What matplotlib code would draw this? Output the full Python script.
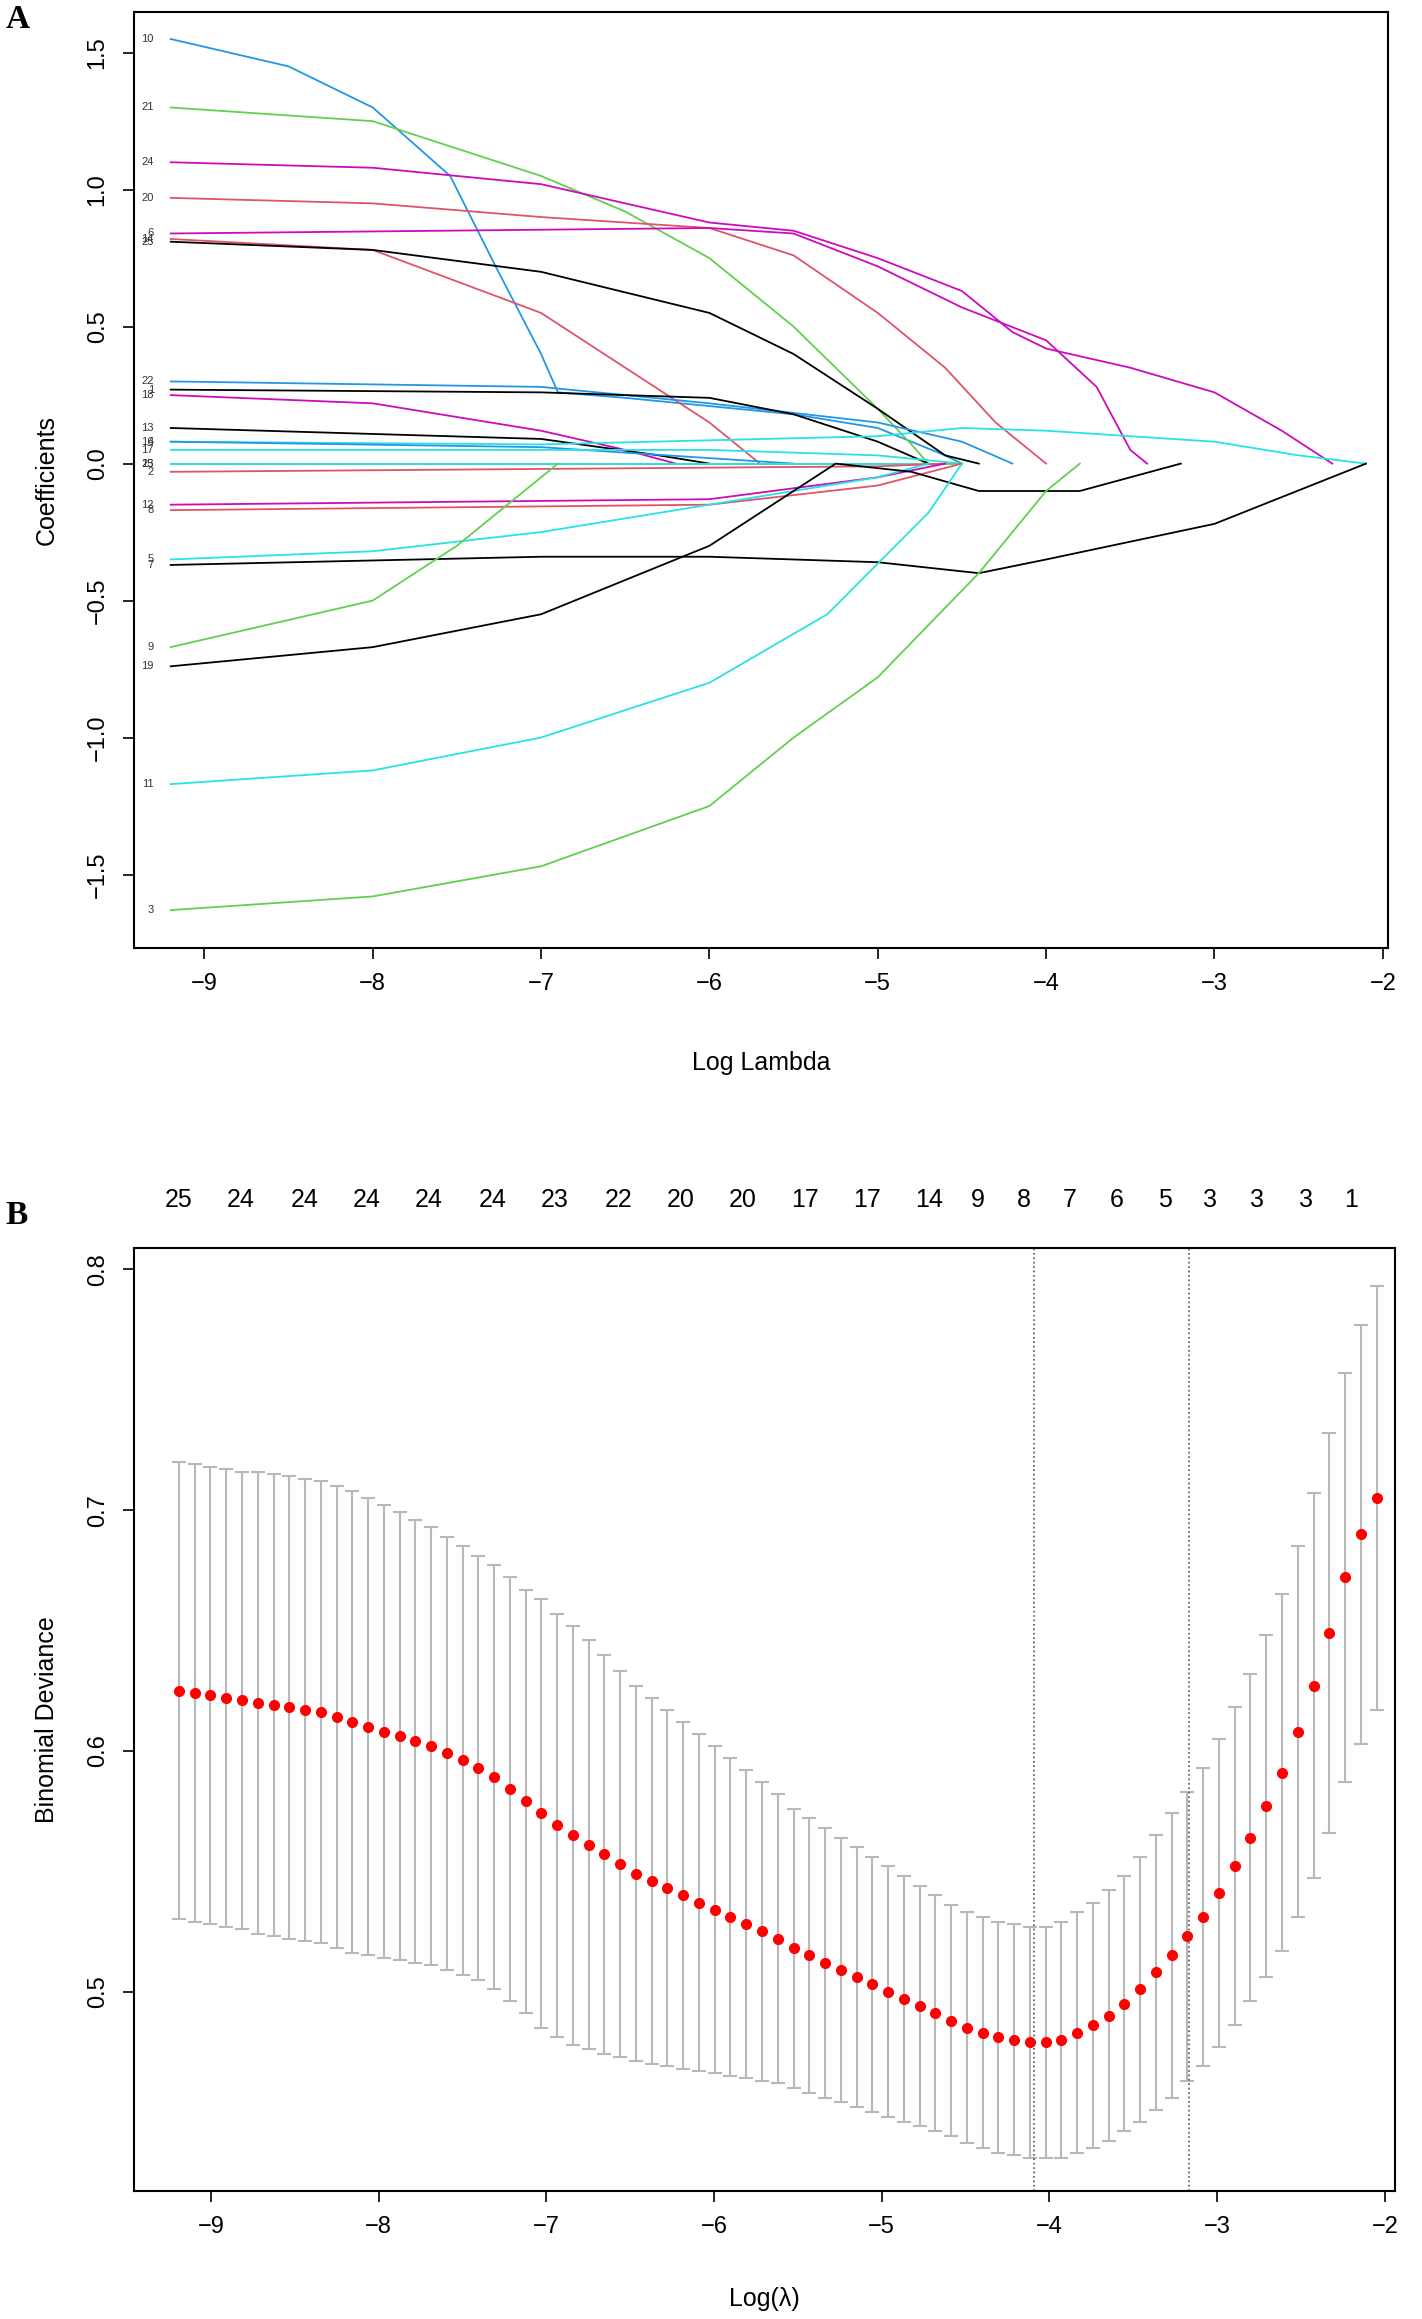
import numpy as np
import matplotlib
matplotlib.use("Agg")
from matplotlib import pyplot as plt
from matplotlib.transforms import blended_transform_factory

plt.rcParams['font.family'] = ['Liberation Sans', 'DejaVu Sans']

# R palette
BLK = 'black'
RED = '#DF536B'
GRN = '#61D04F'
BLU = '#2297E6'
CYN = '#28E2E5'
MAG = '#CD0BBC'

# ---- panel A: coefficient paths, (log lambda, coefficient) knots per variable
paths = {
    '10': (BLU, [(-9.2, 1.55), (-8.5, 1.45), (-8, 1.30), (-7.54, 1.05), (-7.27, 0.72), (-7.0, 0.40),
                 (-6.9, 0.26), (-6.5, 0.24), (-6, 0.21), (-5.5, 0.18), (-5, 0.13), (-4.8, 0.08), (-4.6, 0.03), (-4.5, 0)]),
    '21': (GRN, [(-9.2, 1.30), (-8, 1.25), (-7, 1.05), (-6.5, 0.92), (-6, 0.75), (-5.5, 0.50), (-5, 0.20), (-4.8, 0.07), (-4.7, 0)]),
    '24': (MAG, [(-9.2, 1.10), (-8, 1.08), (-7, 1.02), (-6, 0.88), (-5.5, 0.85), (-5, 0.75), (-4.5, 0.63), (-4.2, 0.48),
                 (-4, 0.42), (-3.5, 0.35), (-3, 0.26), (-2.6, 0.12), (-2.3, 0)]),
    '20': (RED, [(-9.2, 0.97), (-8, 0.95), (-7, 0.90), (-6, 0.86), (-5.5, 0.76), (-5, 0.55), (-4.6, 0.35), (-4.3, 0.15), (-4.0, 0)]),
    '6': (MAG, [(-9.2, 0.84), (-6, 0.86), (-5.5, 0.84), (-5, 0.72), (-4.5, 0.57), (-4, 0.45), (-3.7, 0.28), (-3.5, 0.05), (-3.4, 0)]),
    '14': (RED, [(-9.2, 0.82), (-8, 0.78), (-7, 0.55), (-6.5, 0.35), (-6, 0.15), (-5.7, 0)]),
    '25': (BLK, [(-9.2, 0.81), (-8, 0.78), (-7, 0.70), (-6, 0.55), (-5.5, 0.40), (-5, 0.20), (-4.6, 0.03), (-4.4, 0)]),
    '22': (BLU, [(-9.2, 0.30), (-7, 0.28), (-6, 0.22), (-5, 0.15), (-4.5, 0.08), (-4.2, 0)]),
    '1': (BLK, [(-9.2, 0.27), (-7, 0.26), (-6, 0.24), (-5.5, 0.18), (-5, 0.08), (-4.7, 0)]),
    '18': (MAG, [(-9.2, 0.25), (-8, 0.22), (-7, 0.12), (-6.5, 0.05), (-6.2, 0)]),
    '13': (BLK, [(-9.2, 0.13), (-7, 0.09), (-6.3, 0.03), (-6, 0)]),
    '16': (CYN, [(-9.2, 0.08), (-7, 0.07), (-5, 0.10), (-4.5, 0.13), (-4, 0.12), (-3, 0.08), (-2.5, 0.03), (-2.1, 0)]),
    '4': (BLU, [(-9.2, 0.08), (-7, 0.06), (-6, 0.02), (-5.5, 0)]),
    '17': (CYN, [(-9.2, 0.05), (-6, 0.05), (-5, 0.03), (-4.5, 0)]),
    '23': (GRN, [(-9.2, 0.0), (-4.5, 0.0)]),
    '15': (CYN, [(-9.2, 0.0), (-4.8, 0.0)]),
    '2': (RED, [(-9.2, -0.03), (-5, -0.01), (-4.6, 0)]),
    '12': (MAG, [(-9.2, -0.15), (-6, -0.13), (-5, -0.05), (-4.6, 0)]),
    '8': (RED, [(-9.2, -0.17), (-6, -0.15), (-5, -0.08), (-4.5, 0)]),
    '5': (CYN, [(-9.2, -0.35), (-8, -0.32), (-7, -0.25), (-6, -0.15), (-5, -0.05), (-4.7, 0)]),
    '7': (BLK, [(-9.2, -0.37), (-7, -0.34), (-6, -0.34), (-5, -0.36), (-4.4, -0.40), (-4, -0.35), (-3, -0.22), (-2.1, 0)]),
    '9': (GRN, [(-9.2, -0.67), (-8, -0.50), (-7.5, -0.30), (-7, -0.05), (-6.9, 0)]),
    '19': (BLK, [(-9.2, -0.74), (-8, -0.67), (-7, -0.55), (-6, -0.30), (-5.5, -0.10), (-5.25, 0), (-4.8, -0.03),
                 (-4.4, -0.10), (-3.8, -0.10), (-3.2, 0)]),
    '11': (CYN, [(-9.2, -1.17), (-8, -1.12), (-7, -1.00), (-6, -0.80), (-5.3, -0.55), (-4.7, -0.18), (-4.5, 0)]),
    '3': (GRN, [(-9.2, -1.63), (-8, -1.58), (-7, -1.47), (-6, -1.25), (-5.5, -1.00), (-5, -0.78), (-4.4, -0.40), (-4, -0.10), (-3.8, 0)]),
}

# ---- panel B: cross-validation curve
cv_x = np.linspace(-9.19, -2.05, 77)
cv_mean = [.625, .624, .623, .622, .621, .620, .619, .618, .617, .616,
           .614, .612, .610, .608, .606, .604, .602, .599, .596, .593,
           .589, .584, .579, .574, .569, .565, .561, .557, .553, .549,
           .546, .543, .540, .537, .534, .531, .528, .525, .522, .518,
           .515, .512, .509, .506, .503, .500, .497, .494, .491, .488,
           .485, .483, .481, .480, .479, .479, .480, .483, .486, .490,
           .495, .501, .508, .515, .523, .531, .541, .552, .564, .577,
           .591, .608, .627, .649, .672, .690, .705]
cv_se = [.095, .095, .095, .095, .095, .096, .096, .096, .096, .096,
         .096, .096, .095, .094, .093, .092, .091, .090, .089, .088,
         .088, .088, .088, .089, .088, .087, .085, .083, .080, .078,
         .076, .074, .072, .070, .068, .066, .064, .062, .060, .058,
         .057, .056, .055, .054, .053, .052, .051, .050, .049, .048,
         .048, .048, .048, .048, .048, .048, .049, .050, .051, .052,
         .053, .055, .057, .059, .060, .062, .064, .066, .068, .071,
         .074, .077, .080, .083, .085, .087, .088]
top_counts = ['25', '24', '24', '24', '24', '24', '23', '22', '20', '20', '17',
              '17', '14', '9', '8', '7', '6', '5', '3', '3', '3', '1']
top_x = [-9.19, -8.82, -8.44, -8.07, -7.70, -7.32, -6.95, -6.57, -6.20, -5.83, -5.46,
         -5.09, -4.72, -4.43, -4.15, -3.88, -3.60, -3.31, -3.04, -2.76, -2.47, -2.20]
lambda_min = -4.09
lambda_1se = -3.17

fig = plt.figure(figsize=(14.22, 23.19), dpi=100)
axA = fig.add_axes([0.094, 0.591, 0.882, 0.404])
axB = fig.add_axes([0.094, 0.055, 0.887, 0.407])

for name, (col, pts) in paths.items():
    pts = np.array(pts)
    axA.plot(pts[:, 0], pts[:, 1], color=col, lw=1.3)
    axA.text(-9.3, pts[0, 1], name, fontsize=8, ha='right', va='center', color='#333333')

axA.set_xlim(-9.42, -1.97)
axA.set_ylim(-1.77, 1.65)
axA.set_xticks(range(-9, -1))
axA.set_xticklabels(['\u2212%d' % -v for v in range(-9, -1)])
axA.set_yticks([-1.5, -1.0, -0.5, 0.0, 0.5, 1.0, 1.5])
axA.set_yticklabels(['\u22121.5', '\u22121.0', '\u22120.5', '0.0', '0.5', '1.0', '1.5'], rotation=90, va='center')
axA.set_xlabel('Log Lambda', fontsize=18, labelpad=40)
axA.set_ylabel('Coefficients', fontsize=18, labelpad=20)

axB.errorbar(cv_x, cv_mean, yerr=cv_se, fmt='none', ecolor='#b8b8b8', elinewidth=1.5, capsize=5, capthick=1.5)
axB.plot(cv_x, cv_mean, 'o', color='red', ms=7, mec='red')
axB.axvline(lambda_min, color='#555555', ls=':', lw=1.2)
axB.axvline(lambda_1se, color='#555555', ls=':', lw=1.2)
axB.set_xlim(-9.46, -1.94)
axB.set_ylim(0.417, 0.809)
axB.set_xticks(range(-9, -1))
axB.set_xticklabels(['\u2212%d' % -v for v in range(-9, -1)])
axB.set_yticks([0.5, 0.6, 0.7, 0.8])
axB.set_yticklabels(['0.5', '0.6', '0.7', '0.8'], rotation=90, va='center')
axB.set_xlabel('Log(\u03bb)', fontsize=18, labelpad=35)
axB.set_ylabel('Binomial Deviance', fontsize=18, labelpad=20)
tr = blended_transform_factory(axB.transData, axB.transAxes)
for xv, lab in zip(top_x, top_counts):
    axB.text(xv, 1.05, lab, transform=tr, ha='center', va='center', fontsize=18,
             family=['Liberation Sans Narrow', 'Liberation Sans', 'DejaVu Sans'])

for ax in (axA, axB):
    ax.tick_params(labelsize=17, length=8, width=1.2, pad=10)
    for s in ax.spines.values():
        s.set_linewidth(1.5)

fig.text(0.004, 0.988, 'A', fontsize=24, weight='bold', family=['Liberation Serif', 'DejaVu Serif'])
fig.text(0.004, 0.472, 'B', fontsize=24, weight='bold', family=['Liberation Serif', 'DejaVu Serif'])

fig.savefig('out.png', dpi=100)
